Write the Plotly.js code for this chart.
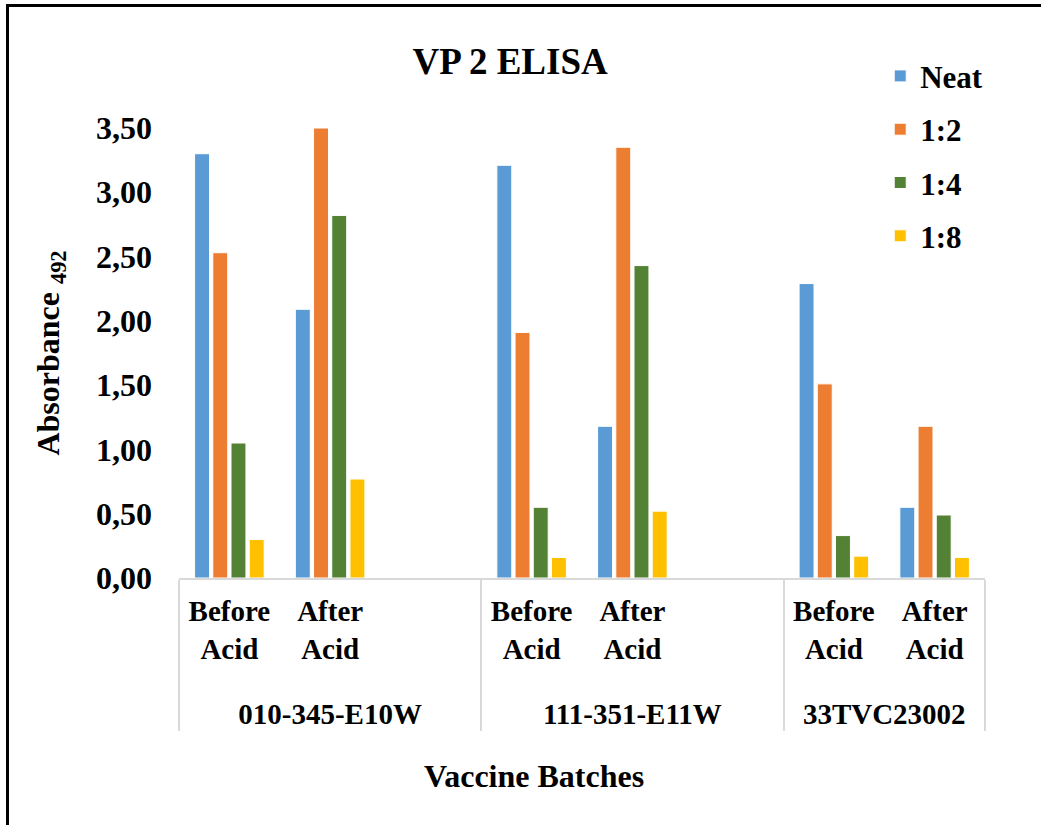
<!DOCTYPE html>
<html>
<head>
<meta charset="utf-8">
<script src="https://cdn.plot.ly/plotly-3.0.1.min.js"></script>
<style>
  html, body { margin: 0; padding: 0; background: #fff; overflow: hidden; }
  #chart { width: 1041px; height: 825px; }
  #frame { position: absolute; left: 6px; top: 4px; width: 1100px; height: 900px;
           border: 3px solid #000; pointer-events: none; }
</style>
</head>
<body>
<div id="chart"></div>
<div id="frame"></div>
<script>
// ---- data ----
const batches = ["010-345-E10W", "010-345-E10W", "010-345-E10W",
                 "111-351-E11W", "111-351-E11W", "111-351-E11W",
                 "33TVC23002", "33TVC23002"];
const treatments = ["Before<br>Acid<br> ", "After<br>Acid<br> ", " ",
                    "Before<br>Acid<br> ", "After<br>Acid<br> ", "  ",
                    "Before<br>Acid<br> ", "After<br>Acid<br> "];
const seriesNames = ["Neat", "1:2", "1:4", "1:8"];
const neat = [3.30, 2.09, null, 3.21, 1.18, null, 2.29, 0.55];
const d12  = [2.53, 3.50, null, 1.91, 3.35, null, 1.51, 1.18];
const d14  = [1.05, 2.82, null, 0.55, 2.43, null, 0.33, 0.49];
const d18  = [0.30, 0.77, null, 0.16, 0.52, null, 0.17, 0.16];
const yTicks = [0, 0.5, 1, 1.5, 2, 2.5, 3, 3.5];
const xTitle = "Vaccine Batches";
const yTitle = "Absorbance <sub>492</sub>";
const chartTitle = "VP 2 ELISA";

const colors = ["#5B9BD5", "#ED7D31", "#548235", "#FFC000"];
const values = [neat, d12, d14, d18];
const FONT = "Liberation Serif, Times New Roman, serif";

const traces = values.map((v, i) => ({
  type: "bar",
  name: seriesNames[i],
  x: [batches, treatments],
  y: v,
  legendgroup: "g" + i,
  marker: { color: colors[i], line: { color: "#ffffff", width: 1 } },
  hoverinfo: "y+name"
}));

const layout = {
  width: 1041,
  height: 825,
  margin: { l: 179, r: 56, t: 128, b: 247 },
  paper_bgcolor: "#ffffff",
  plot_bgcolor: "#ffffff",
  separators: ",.",
  barmode: "group",
  bargap: 0.277,
  bargroupgap: 0.18,
  font: { family: FONT, color: "#000", size: 30, weight: 700 },
  title: {
    text: chartTitle,
    font: { family: FONT, size: 37, color: "#000", weight: 700 },
    x: 0.49, xanchor: "center",
    y: 1 - 61 / 825, yanchor: "middle"
  },
  xaxis: {
    type: "multicategory",
    showline: true,
    linecolor: "#d9d9d9",
    linewidth: 2,
    showgrid: false,
    ticks: "",
    ticklabelstandoff: 6,
    tickfont: { family: FONT, size: 29, color: "#000", weight: 700 },
    showdividers: true,
    dividercolor: "#d9d9d9",
    dividerwidth: 2,
    automargin: false
  },
  yaxis: {
    range: [0, 3.5],
    tickvals: yTicks,
    tickformat: ".2f",
    showgrid: false,
    zeroline: false,
    showline: false,
    ticks: "",
    ticklabelstandoff: 26,
    tickfont: { family: FONT, size: 32, color: "#000", weight: 700 },
    title: {
      text: yTitle,
      font: { family: FONT, size: 32, color: "#000", weight: 700 },
      standoff: 26
    },
    automargin: false
  },
  annotations: [{
    text: xTitle,
    xref: "paper", yref: "paper",
    x: (534 - 179) / 806, y: -(776 - 578) / 450,
    xanchor: "center", yanchor: "middle",
    showarrow: false,
    font: { family: FONT, size: 32, color: "#000", weight: 700 }
  }],
  legend: {
    x: 0.87, xanchor: "left",
    y: 1.175, yanchor: "top",
    bgcolor: "rgba(0,0,0,0)",
    font: { family: FONT, size: 31, color: "#000", weight: 700 },
    traceorder: "grouped",
    tracegroupgap: 10
  },
  showlegend: true
};

Plotly.newPlot("chart", traces, layout, { displayModeBar: false, staticPlot: true });
</script>
</body>
</html>
